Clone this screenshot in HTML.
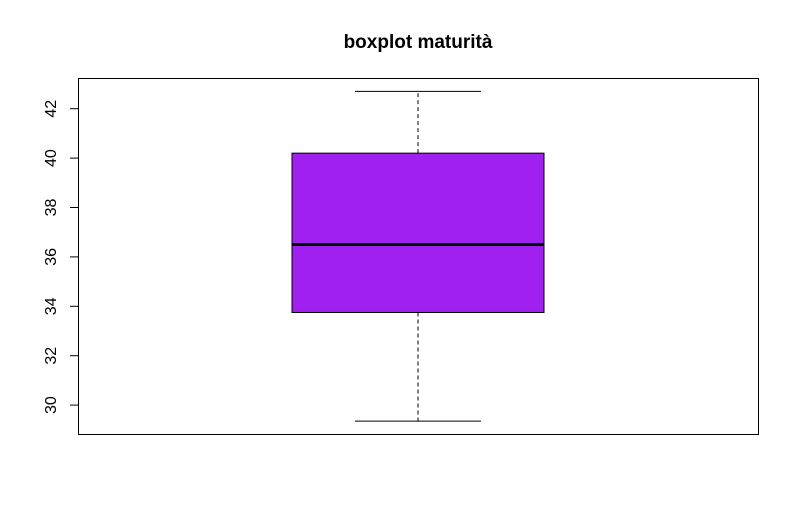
<!DOCTYPE html>
<html><head><meta charset="utf-8"><style>body{margin:0;background:#fff}svg{display:block}</style></head>
<body>
<svg id="c" width="799" height="532" xmlns="http://www.w3.org/2000/svg" font-family="Liberation Sans, Arial, sans-serif">
<rect width="799" height="532" fill="#fff"/>
<text x="418" y="48" text-anchor="middle" font-size="19" font-weight="bold">boxplot maturità</text>
<rect x="78.5" y="78.5" width="680" height="356" fill="none" stroke="#000"/>
<g id="yaxis"></g>
<g id="box"></g>
</svg>
<script>
const yTicks = [30, 32, 34, 36, 38, 40, 42];
const stats = [29.35, 33.75, 36.5, 40.2, 42.7]; // min, q1, median, q3, max
const NS = 'http://www.w3.org/2000/svg';
function y(v){ return 108.7 + (42 - v) * 24.7; }
function mk(tag, attrs, parent){ const e = document.createElementNS(NS, tag); for (const k in attrs) e.setAttribute(k, attrs[k]); parent.appendChild(e); return e; }
const ya = document.getElementById('yaxis');
mk('line', {x1:78.5, x2:78.5, y1:y(yTicks[0]), y2:y(yTicks[yTicks.length-1]), stroke:'#000'}, ya);
yTicks.forEach(t => {
  const l = mk('line', {x1:70, x2:78.5, y1:y(t), y2:y(t), stroke:'#000'}, ya);
  
  
  const tx = mk('text', {x:0, y:0, 'font-size':16, 'text-anchor':'middle', transform:`translate(56,${y(t)}) rotate(-90)`}, ya);
  tx.textContent = t;
  
  
});
const b = document.getElementById('box');
const cx = 418, bx1 = 292, bx2 = 544, cx1 = 355, cx2 = 481;
const [mn, q1, md, q3, mx] = stats;
const w1 = mk('line', {x1:cx, x2:cx, y1:y(q3), y2:y(mx), stroke:'#000', 'stroke-dasharray':'4,3'}, b);


const w2 = mk('line', {x1:cx, x2:cx, y1:y(q1), y2:y(mn), stroke:'#000', 'stroke-dasharray':'4,3'}, b);


const c1 = mk('line', {x1:cx1, x2:cx2, y1:y(mx), y2:y(mx), stroke:'#000'}, b);


const c2 = mk('line', {x1:cx1, x2:cx2, y1:y(mn), y2:y(mn), stroke:'#000'}, b);


const r = mk('rect', {x:bx1, y:y(q3), width:bx2-bx1, height:y(q1)-y(q3), fill:'#a020f0', stroke:'#000'}, b);


const m = mk('line', {x1:bx1, x2:bx2, y1:y(md), y2:y(md), stroke:'#000', 'stroke-width':3}, b);


</script>
</body></html>
